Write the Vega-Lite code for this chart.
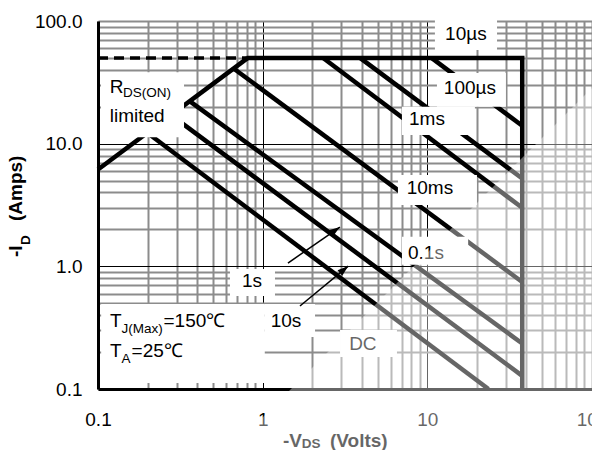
{
  "$schema": "https://vega.github.io/schema/vega-lite/v6.json",
  "width": 494,
  "height": 368,
  "autosize": {"type": "none"},
  "padding": {"left": 98, "top": 21, "right": 0, "bottom": 61},
  "background": "white",
  "config": {"view": {"stroke": null}, "font": "Liberation Sans"},
  "datasets": {
    "curves": [
      {"s": "limit", "x": 0.8, "y": 50, "o": 0},
      {"s": "limit", "x": 37.7, "y": 50, "o": 1},
      {"s": "limit", "x": 37.7, "y": 0.1, "o": 2},
      {"s": "rds", "x": 0.1, "y": 6.15, "o": 0},
      {"s": "rds", "x": 0.813, "y": 50, "o": 1},
      {"s": "100us", "x": 10.6, "y": 50, "o": 0},
      {"s": "100us", "x": 37.7, "y": 14.0, "o": 1},
      {"s": "1ms", "x": 3.9, "y": 50, "o": 0},
      {"s": "1ms", "x": 37.7, "y": 5.2, "o": 1},
      {"s": "10ms", "x": 2.33, "y": 50, "o": 0},
      {"s": "10ms", "x": 37.7, "y": 3.0, "o": 1},
      {"s": "0.1s", "x": 0.666, "y": 41.0, "o": 0},
      {"s": "0.1s", "x": 37.7, "y": 0.745, "o": 1},
      {"s": "1s", "x": 0.362, "y": 22.1, "o": 0},
      {"s": "1s", "x": 37.7, "y": 0.235, "o": 1},
      {"s": "10s", "x": 0.278, "y": 17.1, "o": 0},
      {"s": "10s", "x": 37.7, "y": 0.128, "o": 1},
      {"s": "DC", "x": 0.2, "y": 12.2, "o": 0},
      {"s": "DC", "x": 23.5, "y": 0.1, "o": 1}
    ],
    "dash": [
      {"x": 0.1, "y": 50},
      {"x": 0.8, "y": 50}
    ],
    "boxes": [
      {"k": "10us", "x": 11.12, "x2": 26.5, "y": 57.9, "y2": 110},
      {"k": "100us", "x": 11.44, "x2": 30.0, "y": 19.95, "y2": 37.6},
      {"k": "1ms", "x": 7.01, "x2": 19.45, "y": 11.75, "y2": 19.95},
      {"k": "10ms", "x": 6.63, "x2": 20.0, "y": 3.16, "y2": 5.55},
      {"k": "0.1s", "x": 7.01, "x2": 17.7, "y": 1.03, "y2": 1.74},
      {"k": "1s", "x": 0.633, "x2": 1.188, "y": 0.573, "y2": 0.95},
      {"k": "10s", "x": 1.03, "x2": 2.08, "y": 0.265, "y2": 0.493},
      {"k": "DC", "x": 2.95, "x2": 6.54, "y": 0.1823, "y2": 0.3026},
      {"k": "Tj", "x": 0.1045, "x2": 1.03, "y": 0.112, "y2": 0.493},
      {"k": "Rds", "x": 0.1043, "x2": 0.333, "y": 11.3, "y2": 38.3}
    ],
    "labels": [
      {"t": "10µs", "x": 17.15, "y": 78.2},
      {"t": "100µs", "x": 18.14, "y": 28.4},
      {"t": "1ms", "x": 9.95, "y": 15.9},
      {"t": "10ms", "x": 10.37, "y": 4.35},
      {"t": "0.1s", "x": 9.81, "y": 1.28},
      {"t": "1s", "x": 0.861, "y": 0.759},
      {"t": "10s", "x": 1.385, "y": 0.358},
      {"t": "DC", "x": 4.06, "y": 0.2326}
    ],
    "ltext": [
      {"t": "R", "x": 0.1178, "y": 25.7},
      {"t": "limited", "x": 0.1178, "y": 15.1},
      {"t": "T", "x": 0.1183, "y": 0.323},
      {"t": "=150℃", "x": 0.2498, "y": 0.323},
      {"t": "T", "x": 0.1183, "y": 0.184},
      {"t": "=25℃", "x": 0.160, "y": 0.184}
    ],
    "stext": [
      {"t": "DS(ON)", "x": 0.1418, "y": 23.8},
      {"t": "J(Max)", "x": 0.1389, "y": 0.286},
      {"t": "A", "x": 0.1389, "y": 0.163}
    ],
    "xtitle": [
      {"t": "-V", "x": 1.328, "y": 0.03386},
      {"t": "(Volts)", "x": 2.562, "y": 0.03386}
    ],
    "xtitlesub": [
      {"t": "DS", "x": 1.725, "y": 0.03305}
    ],
    "ytitle": [
      {"t": "-I", "x": 0.03479, "y": 1.191},
      {"t": "(Amps)", "x": 0.03479, "y": 2.34}
    ],
    "ytitlesub": [
      {"t": "D", "x": 0.0389, "y": 1.491}
    ],
    "arrows": [
      {"k": "1s", "x": 1.424, "y": 1.064, "x2": 2.946, "y2": 2.09},
      {"k": "10s", "x": 1.685, "y": 0.4747, "x2": 3.31, "y2": 1.005}
    ],
    "heads": [
      {"k": "1s", "x": 2.946, "y": 2.09},
      {"k": "10s", "x": 3.31, "y": 1.005}
    ],
    "overlay": [
      {"x": 0.633, "y": 0.0318, "y2": 0.01},
      {"x": 116.5, "y": 34.9, "y2": 0.01}
    ]
  },
  "encoding": {
    "x": {
      "field": "x",
      "type": "quantitative",
      "scale": {"type": "log", "domain": [0.1, 100], "nice": false},
      "axis": {
        "title": null,
        "values": [0.1, 0.2, 0.3, 0.4, 0.5, 0.6, 0.7, 0.8, 0.9, 1, 2, 3, 4, 5, 6, 7, 8, 9, 10, 20, 30, 40, 50, 60, 70, 80, 90, 100],
        "format": "~g",
        "labelExpr": "datum.value == 0.1 || datum.value == 1 || datum.value == 10 || datum.value == 100 ? datum.label : ''",
        "grid": true,
        "gridColor": {"condition": {"test": "datum.value == 1 || datum.value == 10", "value": "#000000"}, "value": "#8c8c8c"},
        "gridWidth": {"condition": {"test": "datum.value == 1 || datum.value == 10", "value": 1}, "value": 2},
        "ticks": false,
        "domainColor": "#000000",
        "domainWidth": 3,
        "labelFont": "Liberation Sans",
        "labelFontSize": 19,
        "labelColor": "#000000",
        "labelPadding": 21,
        "labelFlush": false,
        "labelOverlap": false,
        "labelBound": false
      }
    },
    "y": {
      "field": "y",
      "type": "quantitative",
      "scale": {"type": "log", "domain": [0.1, 100], "nice": false},
      "axis": {
        "title": null,
        "values": [0.1, 0.2, 0.3, 0.4, 0.5, 0.6, 0.7, 0.8, 0.9, 1, 2, 3, 4, 5, 6, 7, 8, 9, 10, 20, 30, 40, 50, 60, 70, 80, 90, 100],
        "format": ".1f",
        "labelExpr": "datum.value == 0.1 || datum.value == 1 || datum.value == 10 || datum.value == 100 ? datum.label : ''",
        "grid": true,
        "gridColor": {"condition": {"test": "datum.value == 1 || datum.value == 10", "value": "#000000"}, "value": "#8c8c8c"},
        "gridWidth": {"condition": {"test": "datum.value == 1 || datum.value == 10", "value": 1}, "value": 2},
        "ticks": false,
        "domainColor": "#000000",
        "domainWidth": 3,
        "labelFont": "Liberation Sans",
        "labelFontSize": 19,
        "labelColor": "#000000",
        "labelPadding": 16,
        "labelFlush": false,
        "labelOverlap": false,
        "labelBound": false
      }
    }
  },
  "layer": [
    {
      "data": {"name": "curves"},
      "mark": {"type": "line", "color": "#000000", "strokeWidth": 4.5, "strokeCap": "butt", "strokeJoin": "miter"},
      "encoding": {"detail": {"field": "s"}, "order": {"field": "o", "type": "quantitative"}}
    },
    {
      "data": {"name": "dash"},
      "mark": {"type": "line", "color": "#000000", "strokeWidth": 3.5, "strokeDash": [10, 6]},
      "encoding": {}
    },
    {
      "data": {"name": "boxes"},
      "mark": {"type": "rect", "color": "#ffffff", "opacity": 1},
      "encoding": {"x2": {"field": "x2"}, "y2": {"field": "y2"}}
    },
    {
      "data": {"name": "labels"},
      "mark": {"type": "text", "fontSize": 19, "font": "Liberation Sans", "align": "center", "baseline": "middle", "color": "#000000"},
      "encoding": {"text": {"field": "t"}}
    },
    {
      "data": {"name": "ltext"},
      "mark": {"type": "text", "fontSize": 19, "font": "Liberation Sans", "align": "left", "baseline": "alphabetic", "color": "#000000"},
      "encoding": {"text": {"field": "t"}}
    },
    {
      "data": {"name": "stext"},
      "mark": {"type": "text", "fontSize": 13.5, "font": "Liberation Sans", "align": "left", "baseline": "alphabetic", "color": "#000000"},
      "encoding": {"text": {"field": "t"}}
    },
    {
      "data": {"name": "xtitle"},
      "mark": {"type": "text", "fontSize": 19, "fontWeight": "bold", "font": "Liberation Sans", "align": "left", "baseline": "alphabetic", "color": "#000000"},
      "encoding": {"text": {"field": "t"}}
    },
    {
      "data": {"name": "xtitlesub"},
      "mark": {"type": "text", "fontSize": 13.5, "fontWeight": "bold", "font": "Liberation Sans", "align": "left", "baseline": "alphabetic", "color": "#000000"},
      "encoding": {"text": {"field": "t"}}
    },
    {
      "data": {"name": "ytitle"},
      "mark": {"type": "text", "fontSize": 19, "fontWeight": "bold", "font": "Liberation Sans", "align": "left", "baseline": "alphabetic", "angle": 270, "color": "#000000"},
      "encoding": {"text": {"field": "t"}}
    },
    {
      "data": {"name": "ytitlesub"},
      "mark": {"type": "text", "fontSize": 13.5, "fontWeight": "bold", "font": "Liberation Sans", "align": "left", "baseline": "alphabetic", "angle": 270, "color": "#000000"},
      "encoding": {"text": {"field": "t"}}
    },
    {
      "data": {"name": "arrows"},
      "mark": {"type": "rule", "color": "#000000", "strokeWidth": 1.5},
      "encoding": {"x2": {"field": "x2"}, "y2": {"field": "y2"}}
    },
    {
      "data": {"name": "heads"},
      "transform": [{"filter": "datum.k == '1s'"}],
      "mark": {"type": "point", "shape": "M0,0L-0.4,1.2L0.4,1.2Z", "filled": true, "color": "#000000", "opacity": 1, "size": 330, "angle": 55},
      "encoding": {}
    },
    {
      "data": {"name": "heads"},
      "transform": [{"filter": "datum.k == '10s'"}],
      "mark": {"type": "point", "shape": "M0,0L-0.4,1.2L0.4,1.2Z", "filled": true, "color": "#000000", "opacity": 1, "size": 330, "angle": 50},
      "encoding": {}
    },
    {
      "data": {"name": "overlay"},
      "mark": {"type": "area", "color": "#ffffff", "opacity": 0.4},
      "encoding": {"y2": {"field": "y2"}}
    }
  ]
}
